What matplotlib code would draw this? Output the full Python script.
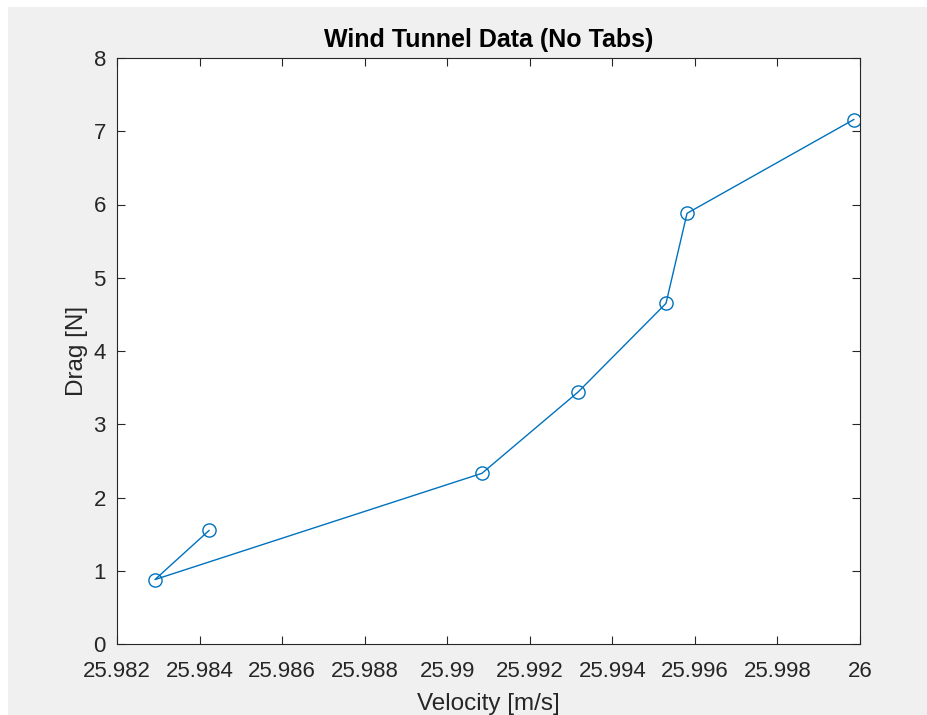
import matplotlib.pyplot as plt
from matplotlib.patches import Rectangle

plt.rcParams['font.family'] = ['Liberation Sans', 'DejaVu Sans']

# wind tunnel readings, in the order they were plotted
velocity = [25.98423, 25.98292, 25.99084, 25.99317, 25.99530, 25.99581, 25.99985]
drag = [1.55, 0.88, 2.33, 3.44, 4.65, 5.88, 7.16]

xticks = [25.982, 25.984, 25.986, 25.988, 25.99, 25.992, 25.994, 25.996, 25.998, 26]
xlabels = ['25.982', '25.984', '25.986', '25.988', '25.99', '25.992',
           '25.994', '25.996', '25.998', '26']

fig = plt.figure(figsize=(9.28, 7.15), dpi=100, facecolor='#f0f0f0')
# thin white strips on the top and left edges
fig.patches.append(Rectangle((0, 0), 8 / 928, 1, transform=fig.transFigure,
                             facecolor='white', edgecolor='none'))
fig.patches.append(Rectangle((0, 1 - 7 / 715), 1, 7 / 715, transform=fig.transFigure,
                             facecolor='white', edgecolor='none'))

ax = fig.add_axes([117 / 928, 1 - 644 / 715, 743 / 928, 586 / 715])
ax.plot(velocity, drag, '-o', color='#0072bd', linewidth=1, markersize=9.5,
        markerfacecolor='none', markeredgewidth=1)

ax.set_xlim(25.982, 26)
ax.set_ylim(0, 8)
ax.set_xticks(xticks, xlabels)
ax.set_yticks(range(0, 9))

ax.tick_params(direction='in', length=6, width=0.8, top=True, right=True,
               labelsize=16, colors='#262626')
ax.tick_params(axis='x', pad=12)
ax.tick_params(axis='y', pad=8)
for s in ax.spines.values():
    s.set_color('#262626')
    s.set_linewidth(0.8)

ax.set_xlabel('Velocity [m/s]', fontsize=17.5, color='#262626', labelpad=8)
ax.set_ylabel('Drag [N]', fontsize=17.5, color='#262626', labelpad=4)
ax.set_title('Wind Tunnel Data (No Tabs)', fontsize=18, fontweight='bold', pad=8)

plt.savefig('out.png', dpi=100, facecolor=fig.get_facecolor())
